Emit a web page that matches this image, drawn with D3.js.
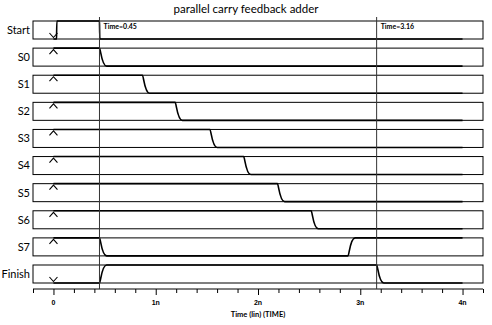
<!DOCTYPE html>
<html>
<head>
<meta charset="utf-8">
<script src="https://cdn.jsdelivr.net/npm/d3@7"></script>
<style>
  body { margin: 0; background: #fff; }
  svg { display: block; font-family: Lato, "Open Sans", sans-serif; }
</style>
</head>
<body>
<div id="chart"></div>
<script>
// signal rows, top to bottom
const signalNames = ["Start", "S0", "S1", "S2", "S3", "S4", "S5", "S6", "S7", "Finish"];
// level at time 0 (1 = high, 0 = low)
const initialLevels = [0, 1, 1, 1, 1, 1, 1, 1, 1, 0];
// times (ns) where each signal toggles
const edgeTimes = [
    [0.03, 0.45],
    [0.45],
    [0.87],
    [1.19],
    [1.53],
    [1.86],
    [2.19],
    [2.52],
    [0.45, 2.88],
    [0.45, 3.16]
];
const simEnd = 4.0;
const cursorTimes = [0.45, 3.16];
const cursorLabels = ["Time=0.45", "Time=3.16"];
const majorTicks = [0, 1, 2, 3, 4];
const majorTickLabels = ["0", "1n", "2n", "3n", "4n"];

const width = 492, height = 325;
const svg = d3.select("#chart").append("svg")
    .attr("width", width)
    .attr("height", height);

const x = d3.scaleLinear().domain([-0.2, 4.2]).range([33, 483]);
const row = d3.scaleBand().domain(signalNames).range([21, 283]).paddingInner(0.336).paddingOuter(0);
const bw = row.bandwidth();
const level = d3.scaleLinear().domain([0, 1]).range([bw, 0]);

svg.append("text")
    .attr("x", 246).attr("y", 13)
    .attr("text-anchor", "middle")
    .style("font-size", "11.5px")
    .text("parallel carry feedback adder");

const rows = svg.selectAll(".row")
    .data(signalNames.map((name, i) => ({name, init: initialLevels[i], edges: edgeTimes[i], sharp: i === 0})))
    .join("g")
    .attr("class", "row")
    .attr("transform", d => `translate(0, ${row(d.name)})`);

rows.append("rect")
    .attr("x", x.range()[0]).attr("y", 0)
    .attr("width", x.range()[1] - x.range()[0])
    .attr("height", bw)
    .attr("fill", "none")
    .attr("stroke", "#000")
    .attr("stroke-width", 1);

rows.append("text")
    .attr("x", 30).attr("y", bw / 2)
    .attr("dy", "0.35em")
    .attr("text-anchor", "end")
    .style("font-size", "11px")
    .text(d => d.name);

function wavePath(d) {
    let lv = d.init;
    const ramp = d.sharp ? 0.004 : 0.07;
    let p = d3.path();
    p.moveTo(x(0), level(lv));
    d.edges.forEach(t => {
	p.lineTo(x(t), level(lv));
	let nv = 1 - lv;
	let x0 = x(t), x1 = x(t + ramp);
	p.bezierCurveTo(x0 + (x1 - x0) * 0.15, level(lv), x0 + (x1 - x0) * 0.3, level(nv), x1, level(nv));
	lv = nv;
    });
    p.lineTo(x(simEnd), level(lv));
    return p.toString();
}

rows.append("path")
    .attr("d", wavePath)
    .attr("fill", "none")
    .attr("stroke", "#000")
    .attr("stroke-width", 1.6);

// initial value markers at t=0
rows.append("path")
    .attr("d", d => {
	let cx = x(0);
	return d.init
	    ? `M${cx - 4},${level(1) + 6}L${cx},${level(1) + 1.5}L${cx + 4},${level(1) + 6}`
	    : `M${cx - 4},${level(0) - 6}L${cx},${level(0) - 1.5}L${cx + 4},${level(0) - 6}`;
    })
    .attr("fill", "none")
    .attr("stroke", "#000")
    .attr("stroke-width", 1.1);

// axis
const axisY = 289;
const minorTicks = d3.range(-0.2, 4.21, 0.2).map(v => +v.toFixed(2));
const axisG = svg.append("g").attr("transform", `translate(0, ${axisY})`);
axisG.call(d3.axisBottom(x).tickValues(minorTicks).tickSize(4).tickFormat(""));
axisG.select(".domain").attr("stroke", "#000").attr("d", `M${x.range()[0]},0H${x.range()[1]}`);
axisG.selectAll(".tick line")
    .attr("stroke", "#000")
    .attr("y2", d => majorTicks.includes(d) ? 6 : 4);

axisG.selectAll(".major-label")
    .data(majorTicks)
    .join("text")
    .attr("class", "major-label")
    .attr("x", d => x(d))
    .attr("y", 16)
    .attr("text-anchor", "middle")
    .attr("fill", "#000")
    .style("font-size", "7px")
    .style("font-weight", "bold")
    .text((d, i) => majorTickLabels[i]);

svg.append("text")
    .attr("x", 258).attr("y", 317)
    .attr("text-anchor", "middle")
    .style("font-size", "7.5px")
    .style("font-weight", "bold")
    .text("Time (lin) (TIME)");

// cursors
const cursors = svg.selectAll(".cursor")
    .data(cursorTimes)
    .join("g")
    .attr("class", "cursor");

cursors.append("line")
    .attr("x1", d => x(d)).attr("x2", d => x(d))
    .attr("y1", 17).attr("y2", axisY)
    .attr("stroke", "#333")
    .attr("stroke-width", 1);

cursors.append("text")
    .attr("x", d => x(d) + 4)
    .attr("y", 29)
    .style("font-size", "7px")
    .style("font-weight", "bold")
    .text((d, i) => cursorLabels[i]);
</script>
</body>
</html>
